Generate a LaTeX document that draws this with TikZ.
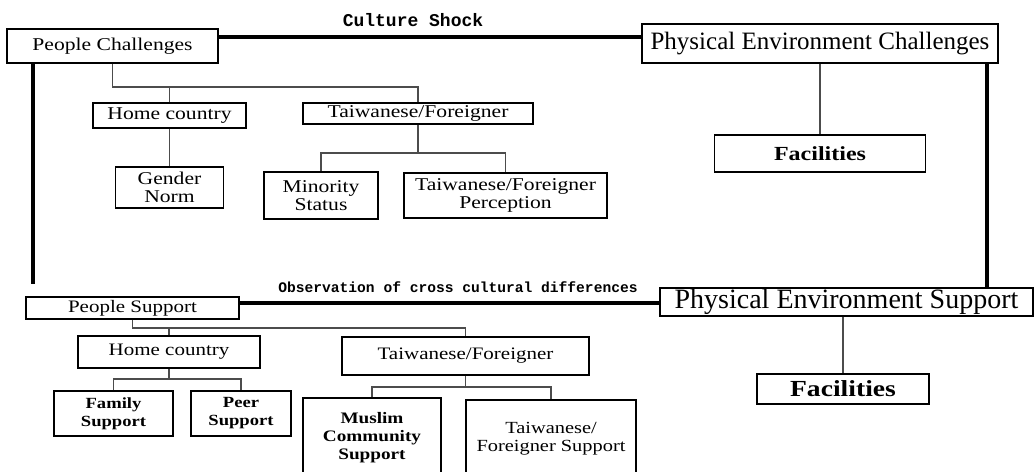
\documentclass[tikz,border=0pt]{standalone}
\usepackage{fontspec}
\setmainfont{Liberation Serif}
\newfontfamily\widefont{Liberation Serif}[FakeStretch=1.2]
\newfontfamily\slabfont{Liberation Mono}

\begin{document}
\begin{tikzpicture}[x=1pt, y=-1pt,
    box/.style={draw, line width=1.6pt, align=center, inner sep=0pt},
    lbl/.style={font=\widefont\fontsize{#1}{18}\selectfont},
    lblb/.style={font=\widefont\bfseries\fontsize{#1}{18}\selectfont},
    tree/.style={line width=1.2pt, black!70},
    link/.style={line width=3.5pt}]
        \useasboundingbox (0,0) rectangle (1035,471);

        % culture shock side
        \node[box, lbl=18, minimum width=211, minimum height=34] (pc) at (112.5,46) {People Challenges};
        \node[box, font=\fontsize{25}{25}\selectfont, minimum width=356, minimum height=39] (pec) at (820,43.5) {Physical Environment Challenges};
        \node[font=\slabfont\bfseries\fontsize{18}{18}\selectfont] (cs) at (413,20) {Culture Shock};

        \node[box, lbl=18, minimum width=153, minimum height=25] (hc1) at (169.5,115.5) {Home country};
        \node[box, lbl=18, minimum width=230, minimum height=21] (tf1) at (418,113.5) {Taiwanese/Foreigner};
        \node[box, lbl=18, minimum width=108, minimum height=41] (gn) at (169.5,187.5) {Gender\\Norm};
        \node[box, lbl=18, minimum width=114, minimum height=47] (ms) at (321,195.5) {Minority\\Status};
        \node[box, lbl=18, minimum width=203, minimum height=45] (tfp) at (505.5,195.5) {Taiwanese/Foreigner\\Perception};
        \node[box, lblb=20, minimum width=211, minimum height=37] (fac1) at (820,153.5) {Facilities};

        % support side
        \node[box, lbl=17.5, minimum width=213, minimum height=22] (ps) at (132.5,308) {People Support};
        \node[box, font=\fontsize{28}{28}\selectfont, minimum width=373, minimum height=28] (pes) at (846.5,302) {Physical Environment Support};
        \node[font=\slabfont\bfseries\fontsize{14.6}{15}\selectfont] (ocd) at (458,287) {Observation of cross cultural differences};

        \node[box, lbl=17.5, minimum width=182, minimum height=32] (hc2) at (169,352) {Home country};
        \node[box, lbl=17.5, minimum width=247, minimum height=38] (tf2) at (465.5,356) {Taiwanese/Foreigner};
        \node[box, lblb=15.5, minimum width=119, minimum height=45] (fs) at (113.5,413.5) {Family\\Support};
        \node[box, lblb=15.5, minimum width=100, minimum height=45] (prs) at (241,413.5) {Peer\\Support};
        \node[box, lblb=16, minimum width=138, minimum height=80] (mcs) at (372,438) {Muslim\\Community\\Support};
        \node[box, lbl=17, minimum width=170, minimum height=78] (tfs) at (551,439) {Taiwanese/\\Foreigner Support};
        \node[box, lblb=23, minimum width=172, minimum height=30] (fac2) at (843,389) {Facilities};

        % thick links
        \coordinate (csline) at (0,37);
        \coordinate (obsline) at (0,303);
        \coordinate (lv) at (33,0);
        \coordinate (rv) at (987,0);
        \draw[link] (pc.east |- csline) -- (pec.west |- csline);
        \draw[link] (ps.east |- obsline) -- (pes.west |- obsline);
        \draw[link, shorten >=12pt] (pc.south -| lv) -- (ps.north -| lv);
        \draw[link] (pec.south -| rv) -- (pes.north -| rv);

        % trees
        \coordinate (pcbus) at (0,87);
        \coordinate (tfbus) at (0,153);
        \draw[tree] (pc.south) |- (tf1.north |- pcbus) -- (tf1.north);
        \draw[tree] (hc1.north) -- (hc1.north |- pcbus);
        \draw[tree] (hc1.south) -- (gn.north);
        \draw[tree] (ms.north) |- (tfp.north |- tfbus) -- (tfp.north);
        \draw[tree] (tf1.south) -- (tf1.south |- tfbus);
        \draw[tree] (pec.south -| fac1.north) -- (fac1.north);

        \coordinate (psbus) at (0,328);
        \coordinate (hcbus) at (0,379);
        \coordinate (tfbus2) at (0,387);
        \draw[tree] (ps.south) |- (tf2.north |- psbus) -- (tf2.north);
        \draw[tree] (hc2.north) -- (hc2.north |- psbus);
        \draw[tree] (fs.north) |- (prs.north |- hcbus) -- (prs.north);
        \draw[tree] (hc2.south) -- (hc2.south |- hcbus);
        \draw[tree] (mcs.north) |- (tfs.north |- tfbus2) -- (tfs.north);
        \draw[tree] (tf2.south) -- (tf2.south |- tfbus2);
        \draw[tree] (fac2.north |- pes.south) -- (fac2.north);
    \end{tikzpicture}
\end{document}
